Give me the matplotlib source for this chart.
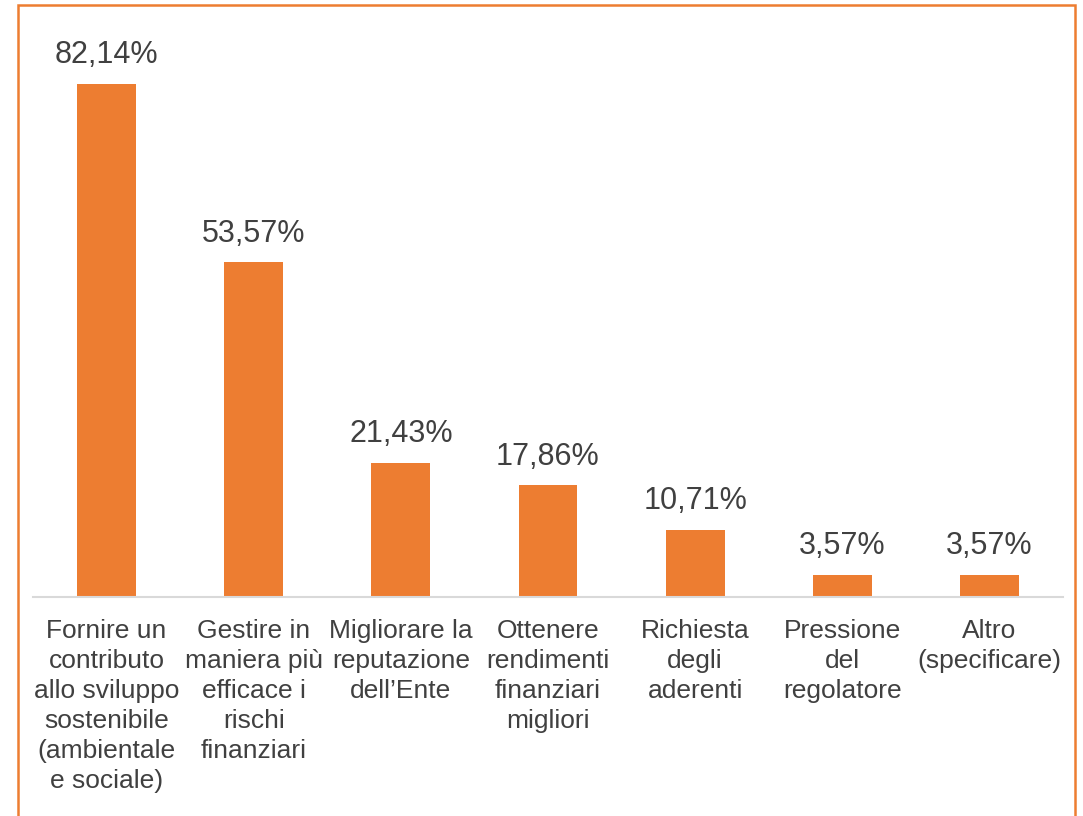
import matplotlib
matplotlib.use("Agg")
import matplotlib.pyplot as plt
from matplotlib.patches import Rectangle

plt.rcParams['font.family'] = ['Liberation Sans', 'DejaVu Sans']

categories = [
    "Fornire un\ncontributo\nallo sviluppo\nsostenibile\n(ambientale\ne sociale)",
    "Gestire in\nmaniera più\nefficace i\nrischi\nfinanziari",
    "Migliorare la\nreputazione\ndell\u2019Ente",
    "Ottenere\nrendimenti\nfinanziari\nmigliori",
    "Richiesta\ndegli\naderenti",
    "Pressione\ndel\nregolatore",
    "Altro\n(specificare)",
]
values = [82.14, 53.57, 21.43, 17.86, 10.71, 3.57, 3.57]
value_labels = ["82,14%", "53,57%", "21,43%", "17,86%", "10,71%", "3,57%", "3,57%"]

W, H = 1083, 816
fig = plt.figure(figsize=(W / 100, H / 100), dpi=100)
ax = fig.add_axes([33 / W, 1 - 597 / H, (1063 - 33) / W, (597 - 35) / H])

bar_color = '#ED7D31'
text_color = '#404040'

x = list(range(len(values)))
bars = ax.bar(x, values, width=0.4, color=bar_color, zorder=3)
ax.set_xlim(-0.5, len(values) - 0.5)
ax.set_ylim(0, 90)

for xi, v, lab in zip(x, values, value_labels):
    ax.annotate(lab, (xi, v), xytext=(0, 10), textcoords='offset points',
                ha='center', va='bottom', fontsize=22, color=text_color)

ax.set_xticks(x)
ax.set_xticklabels(categories, fontsize=19, color=text_color)
for t in ax.get_xticklabels():
    t.set_linespacing(1.31)
ax.tick_params(axis='x', length=0, pad=16)
ax.set_yticks([])
for s in ['left', 'right', 'top']:
    ax.spines[s].set_visible(False)
ax.spines['bottom'].set_color('#D9D9D9')
ax.spines['bottom'].set_linewidth(1.5)
ax.spines['bottom'].set_zorder(4)

# Orange chart border (bottom edge outside the image)
border = Rectangle((18 / W, -0.05), (1075 - 18) / W, 1 - 5 / H + 0.05,
                   transform=fig.transFigure, fill=False, edgecolor=bar_color,
                   linewidth=1.8, clip_on=False)
fig.patches.append(border)

fig.savefig("out.png", dpi=100)
